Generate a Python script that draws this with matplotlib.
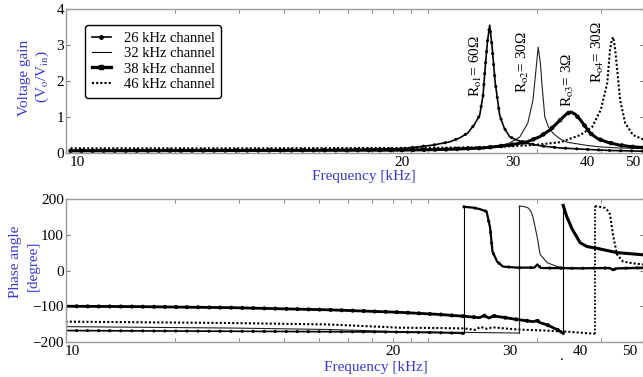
import numpy as np
import matplotlib
matplotlib.use('Agg')
import matplotlib.pyplot as plt
from matplotlib.lines import Line2D
from matplotlib.ticker import FixedLocator

plt.rcParams['font.family'] = ['Liberation Serif', 'DejaVu Serif']
plt.rcParams['mathtext.fontset'] = 'stix'

# ---------------- data (frequency in kHz) ----------------
TICK_KHZ = [10, 20, 30, 40, 50]
SERIES = ['26 kHz channel', '32 kHz channel', '38 kHz channel', '46 kHz channel']

# voltage gain
G26_F = [9.8, 12, 15, 18, 20, 22.8, 24.3, 25.2, 25.9, 26.5, 27.0, 27.3, 27.5, 27.7, 27.9,
         28.1, 28.4, 28.8, 29.2, 29.7, 30.5, 31.9, 34.0, 36.4, 40, 45, 52.5]
G26 = [0.07, 0.07, 0.08, 0.09, 0.12, 0.22, 0.31, 0.42, 0.55, 0.78, 1.05, 1.6, 2.4, 3.1, 3.55,
       3.0, 1.95, 1.05, 0.7, 0.45, 0.36, 0.27, 0.19, 0.14, 0.1, 0.07, 0.05]

G32_F = [9.8, 15, 20, 24, 27.3, 28.8, 29.7, 30.9, 32.0, 32.7, 33.1, 33.4, 33.7, 33.9, 34.3,
         34.8, 35.4, 36.3, 37.3, 40, 42.8, 47, 52.5]
G32 = [0.05, 0.06, 0.08, 0.1, 0.14, 0.2, 0.28, 0.44, 0.83, 1.47, 2.3, 2.94, 2.5, 1.94, 1.0,
       0.72, 0.55, 0.4, 0.3, 0.21, 0.17, 0.14, 0.12]

G38_F = [9.8, 15, 20, 24, 27.3, 29.7, 31.9, 33.6, 35.0, 36.4, 37.2, 37.8, 38.4, 39.1, 40.7,
         42.3, 44.4, 47, 50, 52.5]
G38 = [0.06, 0.07, 0.08, 0.1, 0.14, 0.22, 0.31, 0.45, 0.64, 0.92, 1.08, 1.14, 1.08, 0.92, 0.55,
       0.4, 0.3, 0.22, 0.17, 0.15]

G46_F = [9.8, 15, 20, 25, 28.8, 32.7, 36.4, 39.1, 41.1, 43.0, 44.4, 45.0, 45.4, 45.7, 46.1,
         46.5, 47.2, 48.3, 50, 52.5]
G46 = [0.13, 0.13, 0.14, 0.15, 0.17, 0.22, 0.3, 0.5, 0.72, 1.2, 1.94, 2.86, 3.15, 3.22, 2.9,
       2.4, 1.47, 0.83, 0.5, 0.36]

# phase angle, before and after the phase wrap
P26_F_A = [9.8, 15, 20, 24, 26.07]
P26_A = [-168, -170, -172, -174, -176]
P26_F_B = [26.07, 26.8, 27.4, 28.0, 28.3, 28.5, 28.9, 29.4, 31.0, 33.5, 33.9, 34.4, 40, 44,
           46.0, 46.6, 47.3, 52.7]
P26_B = [178, 176, 172, 165, 120, 53, 25, 11, 8, 8, 17, 7, 6, 7, 7, 1, 6, 8]

P32_F_A = [9.8, 15, 18, 20.6, 26, 31.3]
P32_A = [-157, -161, -165, -171, -173, -175]
P32_F_B = [31.3, 32.0, 32.6, 33.0, 33.3, 33.6, 33.9, 34.3, 35.3, 36.7, 38, 40, 45, 52.7]
P32_B = [180, 179, 175, 165, 148, 120, 92, 45, 22, 11, 8, 6, 5, 5]

P38_F_A = [9.8, 12, 15, 18, 20.6, 24, 26.07, 27.4, 27.8, 28.2, 28.6, 29.4, 31, 33.3, 33.9,
           34.3, 35.3, 36.7, 37.6]
P38_A = [-100, -101, -104, -110, -117, -123, -128, -132, -126, -133, -127, -131, -137, -143,
         -140, -146, -152, -165, -176]
P38_F_B = [37.6, 38.1, 38.9, 39.6, 40, 41.4, 43.4, 47.4, 52.6]
P38_B = [182, 151, 115, 92, 78, 67, 62, 50, 44]

P46_F_A = [9.8, 15, 18, 20.6, 24, 26.07, 27.0, 27.5, 28.0, 28.5, 31, 35, 38.1, 43.0]
P46_A = [-143, -147, -151, -160, -161, -162, -166, -158, -163, -159, -165, -168, -171, -177]
P46_F_B = [43.0, 44.0, 45.0, 45.4, 46.0, 46.6, 47.4, 48.6, 50.6, 52.6]
P46_B = [180, 178, 175, 170, 157, 100, 45, 25, 20, 17]

# ---------------- layout ----------------
W, H = 643, 377
fig = plt.figure(figsize=(W / 100, H / 100), dpi=100)
BLUE = '#3a3ad6'
FRAME = '#9a9a9a'
LEFT_PX, RIGHT_PX = 66.0, 644.0
HIDDEN = [20, 30, 40, 50, 60, 70, 80, 90, 100, 200, 300]


def make_scale(F, P):
    F = np.asarray(F, float)
    P = np.asarray(P, float)

    def pw(x, a, b):
        x = np.asarray(x, float)
        y = np.interp(x, a, b)
        y = np.where(x < a[0], b[0] + (x - a[0]) * (b[1] - b[0]) / (a[1] - a[0]), y)
        y = np.where(x > a[-1], b[-1] + (x - a[-1]) * (b[-1] - b[-2]) / (a[-1] - a[-2]), y)
        return y

    return (lambda x: pw(x, F, P)), (lambda p: pw(p, P, F))


def setup(ax, anchors_px, ylim, yticks):
    fwd, inv = make_scale(TICK_KHZ, anchors_px)
    ax.set_xscale('function', functions=(fwd, inv))
    ax.set_xlim(float(inv(LEFT_PX)), float(inv(RIGHT_PX)))
    ax.set_ylim(*ylim)
    ax.xaxis.set_major_locator(FixedLocator(TICK_KHZ))
    ax.set_xticklabels([str(t) for t in TICK_KHZ])
    minor_px = LEFT_PX + 362 * np.log10(np.array(HIDDEN) / 10)
    ax.xaxis.set_minor_locator(FixedLocator(inv(minor_px)))
    ax.tick_params(axis='x', which='major', length=0, pad=2.5, labelsize=11)
    ax.tick_params(axis='x', which='minor', length=3, direction='in', top=True,
                   bottom=True, color='#777777')
    ax.set_yticks(yticks)
    ax.tick_params(axis='y', which='major', length=3, direction='in', left=True,
                   right=True, pad=1.5, labelsize=11, color='#777777')
    for s in ax.spines.values():
        s.set_color(FRAME)
        s.set_linewidth(1.0)


def dot_line(ax, x, y, base_lw, dot_lw, spacing_px):
    ax.plot(x, y, color='k', lw=base_lw, solid_joinstyle='round')
    sp = spacing_px * 0.72 / dot_lw
    ax.plot(x, y, color='k', lw=dot_lw, linestyle=(0, (0.01, sp)),
            dash_capstyle='round')


ax1 = fig.add_axes([LEFT_PX / W, 1 - 153 / H, (RIGHT_PX - LEFT_PX) / W, 144 / H])
ax2 = fig.add_axes([LEFT_PX / W, 1 - 342 / H, (RIGHT_PX - LEFT_PX) / W, 143 / H])
setup(ax1, [77, 402, 513, 587, 633], (0, 4), [0, 1, 2, 3, 4])
setup(ax2, [72, 393, 510, 580, 630], (-200, 200), [-200, -100, 0, 100, 200])

DOTTED = (0, (1, 1))

# ---- gain ----
ax1.plot(G46_F, G46, color='k', lw=1.5, linestyle=DOTTED)
ax1.plot(G32_F, G32, color='#222222', lw=0.8)
dot_line(ax1, G38_F, G38, 2.2, 3.3, 11)
dot_line(ax1, G26_F, G26, 1.2, 2.3, 11)

ann = [(26.7, 1.56, r'R$_{\mathrm{o1}}$= 60Ω'),
       (31.35, 1.67, r'R$_{\mathrm{o2}}$= 30Ω'),
       (37.4, 1.28, r'R$_{\mathrm{o3}}$= 3Ω'),
       (42.4, 1.94, r'R$_{\mathrm{o4}}$= 30Ω')]
for fx, gy, txt in ann:
    ax1.text(fx, gy, txt, rotation=90, ha='center', va='bottom', fontsize=11)

handles = [Line2D([], [], color='k', lw=1.2, marker='o', ms=2.5),
           Line2D([], [], color='k', lw=0.8),
           Line2D([], [], color='k', lw=2.4, marker='s', ms=3),
           Line2D([], [], color='k', lw=1.5, linestyle=DOTTED)]
leg = ax1.legend(handles, SERIES, loc='upper left', bbox_to_anchor=(0.033, 0.889),
                 borderaxespad=0, fontsize=10.5, handlelength=1.3, handletextpad=0.9,
                 labelspacing=0.15, fancybox=True, edgecolor='k', framealpha=1,
                 numpoints=1, borderpad=0.45)
leg.get_frame().set_linewidth(1.0)

# ---- phase ----
def phase(ax, fa, pa, fb, pb, style):
    if style == 'dot':
        dot_line(ax, fa, pa, 1.2, 2.3, 11)
        dot_line(ax, fb, pb, 1.6, 2.3, 11)
        ax.plot([fa[-1], fb[0]], [pa[-1], pb[0]], color='k', lw=0.8)
    elif style == 'thin':
        ax.plot(fa, pa, color='#222222', lw=0.8)
        ax.plot(fb, pb, color='#222222', lw=0.8)
        ax.plot([fa[-1], fb[0]], [pa[-1], pb[0]], color='#222222', lw=0.8)
    elif style == 'thick':
        dot_line(ax, fa, pa, 2.0, 3.0, 11)
        ax.plot(fb, pb, color='k', lw=2.2)
        ax.plot([fa[-1], fb[0]], [pa[-1], pb[0]], color='k', lw=0.8)
    else:
        ax.plot(fa, pa, color='k', lw=1.5, linestyle=DOTTED)
        ax.plot(fb, pb, color='k', lw=1.5, linestyle=DOTTED)
        ax.plot([fa[-1], fb[0]], [pa[-1], pb[0]], color='k', lw=1.3, linestyle=DOTTED)


phase(ax2, P46_F_A, P46_A, P46_F_B, P46_B, 'dotted')
phase(ax2, P32_F_A, P32_A, P32_F_B, P32_B, 'thin')
phase(ax2, P38_F_A, P38_A, P38_F_B, P38_B, 'thick')
phase(ax2, P26_F_A, P26_A, P26_F_B, P26_B, 'dot')

# ---- axis titles ----
def ftext(x, y, s, **kw):
    fig.text(x / W, 1 - y / H, s, ha='center', va='center', fontsize=11, color=BLUE, **kw)


ftext(25, 78, 'Voltage gain', rotation=90)
ftext(42, 76, r'(V$_{\mathrm{o}}$/V$_{\mathrm{in}}$)', rotation=90)
ftext(15, 262, 'Phase angle', rotation=90)
ftext(33, 266, '[degree]', rotation=90)
ftext(364, 177, 'Frequency [kHz]')
ftext(376, 367, 'Frequency [kHz]')
fig.text(562 / W, 1 - 356 / H, '.', ha='center', va='center', fontsize=11, color='k')

fig.savefig('out.png', dpi=100)
